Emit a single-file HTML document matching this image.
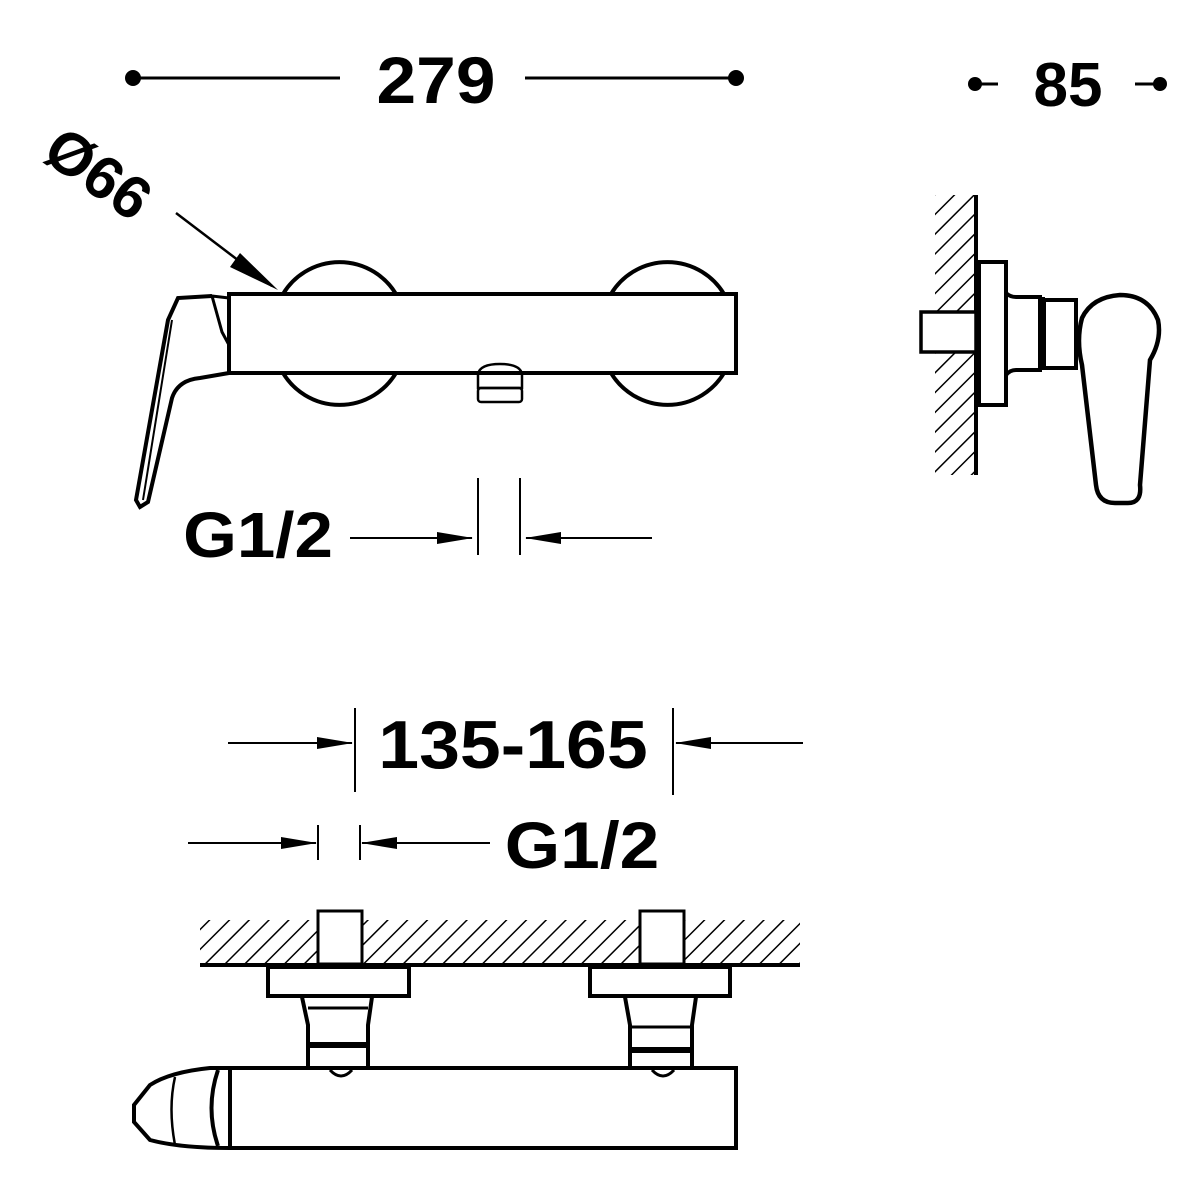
<!DOCTYPE html>
<html><head><style>html,body{margin:0;padding:0;background:#fff}svg{display:block}</style></head><body>
<svg width="1200" height="1200" viewBox="0 0 1200 1200" xmlns="http://www.w3.org/2000/svg">
<defs>
<pattern id="h" width="14" height="14" patternUnits="userSpaceOnUse" patternTransform="rotate(45)">
<line x1="0" y1="0" x2="0" y2="14" stroke="#000" stroke-width="3"/>
</pattern>
<marker id="a" markerWidth="36" markerHeight="12" refX="35" refY="6" orient="auto" markerUnits="userSpaceOnUse" viewBox="0 0 36 12">
<path d="M0,0 L36,6 L0,12 Z" fill="#000"/></marker>
</defs>
<g font-family="Liberation Sans, sans-serif" font-weight="bold" fill="#000">
<text x="436" y="103" font-size="66" text-anchor="middle" transform="translate(436,0) scale(1.08,1) translate(-436,0)">279</text>
<text x="1068" y="106" font-size="62" text-anchor="middle">85</text>
<text x="0" y="0" font-size="60" transform="translate(40,158) rotate(35)">Ø66</text>
<text x="258" y="557" font-size="64" text-anchor="middle" transform="translate(258,0) scale(1.08,1) translate(-258,0)">G1/2</text>
<text x="513" y="768" font-size="68" text-anchor="middle" transform="translate(513,0) scale(1.08,1) translate(-513,0)">135-165</text>
<text x="582" y="868" font-size="66" text-anchor="middle" transform="translate(582,0) scale(1.08,1) translate(-582,0)">G1/2</text>
</g>
<g stroke="#000" fill="none" stroke-width="3">
<line x1="133" y1="78" x2="340" y2="78"/><line x1="525" y1="78" x2="736" y2="78"/>
<line x1="975" y1="84" x2="998" y2="84"/><line x1="1135" y1="84" x2="1160" y2="84"/>
<line x1="176" y1="213" x2="272" y2="286" stroke-width="2.5"/>
<path d="M240,253 L278,290 L230,267 Z" fill="#000" stroke="none"/>
<path d="M283,294 A66,66 0 0 1 396,294" stroke-width="4"/>
<path d="M611,294 A66,66 0 0 1 724,294" stroke-width="4"/>
<path d="M283,373 A66,66 0 0 0 396,373" stroke-width="4"/>
<path d="M611,373 A66,66 0 0 0 724,373" stroke-width="4"/>
<rect x="229" y="294" width="507" height="79" stroke-width="4"/>
<path d="M478,374 Q480,364 500,364 Q520,364 522,374 L522,388 L478,388 Z" stroke-width="2.5"/>
<rect x="478" y="388" width="44" height="14" rx="3" stroke-width="2.5"/>
<path d="M229,298 L212,296 L222,332 L229,345" stroke-width="3"/>
<path d="M212,296 L178,298 L168,320 L136,500 L140,507 L148,502 L172,398 Q178,380 200,378 L229,373" stroke-width="4"/>
<line x1="172" y1="320" x2="143" y2="500" stroke-width="2"/>
<line x1="350" y1="538" x2="472" y2="538" marker-end="url(#a)" stroke-width="2"/>
<line x1="652" y1="538" x2="526" y2="538" marker-end="url(#a)" stroke-width="2"/>
<line x1="478" y1="478" x2="478" y2="555" stroke-width="2"/>
<line x1="520" y1="478" x2="520" y2="555" stroke-width="2"/>
<rect x="935" y="195" width="40" height="280" fill="url(#h)" stroke="none"/>
<line x1="976" y1="195" x2="976" y2="475" stroke-width="4"/>
<rect x="921" y="312" width="55" height="40" fill="#fff" stroke-width="3.5"/>
<rect x="979" y="262" width="27" height="143" fill="#fff" stroke-width="4"/>
<path d="M1006,293 Q1010,297 1016,297 L1040,297 L1040,370 L1016,370 Q1010,370 1006,375" stroke-width="4"/>
<rect x="1044" y="300" width="32" height="68" stroke-width="4" fill="#fff"/>
<line x1="1042" y1="297" x2="1042" y2="370" stroke-width="6"/>
<path d="M1082,365 L1096,485 Q1098,503 1115,503 L1128,503 Q1142,503 1140,485 L1150,360 Q1162,340 1158,320 Q1148,295 1120,295 Q1092,297 1082,318 Q1076,340 1082,365 Z" stroke-width="4.5"/>
<line x1="228" y1="743" x2="352" y2="743" marker-end="url(#a)" stroke-width="2"/>
<line x1="803" y1="743" x2="676" y2="743" marker-end="url(#a)" stroke-width="2"/>
<line x1="355" y1="708" x2="355" y2="792" stroke-width="2"/>
<line x1="673" y1="708" x2="673" y2="795" stroke-width="2"/>
<line x1="188" y1="843" x2="316" y2="843" marker-end="url(#a)" stroke-width="2"/>
<line x1="490" y1="843" x2="362" y2="843" marker-end="url(#a)" stroke-width="2"/>
<line x1="318" y1="825" x2="318" y2="860" stroke-width="2"/>
<line x1="360" y1="825" x2="360" y2="860" stroke-width="2"/>
<rect x="200" y="920" width="600" height="44" fill="url(#h)" stroke="none"/>
<line x1="200" y1="965" x2="800" y2="965" stroke-width="4"/>
<rect x="318" y="911" width="44" height="53" fill="#fff" stroke-width="3"/>
<rect x="640" y="911" width="44" height="53" fill="#fff" stroke-width="3"/>
<rect x="268" y="967" width="141" height="29" stroke-width="4"/>
<rect x="590" y="967" width="140" height="29" stroke-width="4"/>
<path d="M302,997 L308,1025 L308,1070 M372,997 L368,1025 L368,1070" stroke-width="4"/>
<line x1="308" y1="1008" x2="368" y2="1008" stroke-width="3"/>
<line x1="308" y1="1045" x2="368" y2="1045" stroke-width="6"/>
<path d="M625,997 L630,1025 L630,1070 M696,997 L692,1025 L692,1070" stroke-width="4"/>
<line x1="630" y1="1027" x2="692" y2="1027" stroke-width="3"/>
<line x1="630" y1="1050" x2="692" y2="1050" stroke-width="6"/>
<rect x="230" y="1068" width="506" height="80" stroke-width="4"/>
<path d="M330,1070 Q341,1082 352,1070" stroke-width="3"/>
<path d="M652,1070 Q663,1082 674,1070" stroke-width="3"/>
<path d="M230,1068 L210,1068 Q170,1072 150,1085 L134,1105 L134,1122 L150,1140 Q180,1148 230,1148" stroke-width="4"/>
<path d="M175,1077 Q168,1108 175,1145" stroke-width="2.5"/>
<path d="M218,1070 Q205,1108 218,1146" stroke-width="4"/>
</g>
<g fill="#000">
<circle cx="133" cy="78" r="8"/><circle cx="736" cy="78" r="8"/>
<circle cx="975" cy="84" r="7"/><circle cx="1160" cy="84" r="7"/>
</g>
</svg>
</body></html>
